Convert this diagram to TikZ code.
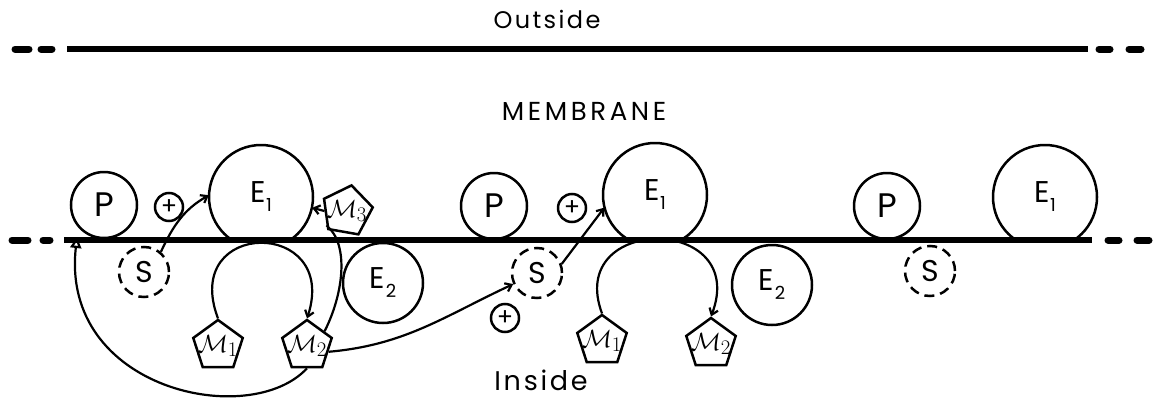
\documentclass[tikz,border=0pt]{standalone}
\usepackage{fontspec}
\setmainfont{Poppins}
\newfontfamily\wideA[LetterSpace=10]{Poppins}
\newfontfamily\wideB[LetterSpace=14]{Poppins}
\usetikzlibrary{shapes.geometric,arrows.meta}

% subscripted labels
\newcommand\Elab[1]{\fontsize{30}{30}\selectfont E\kern0.5pt\raisebox{-0.3em}{\fontsize{18}{18}\selectfont #1}}
\newcommand\Mlab[1]{$\mathcal{M}_{#1}$}

\begin{document}
\begin{tikzpicture}[x=1pt,y=1pt,
  mem/.style={line width=5.5pt},
  memdash/.style={line width=7pt, line cap=round},
  ring/.style={circle, draw, line width=2.5pt, inner sep=0pt},
  pcirc/.style={ring, minimum size=66pt, font=\fontsize{34}{34}\selectfont},
  plusc/.style={ring, minimum size=28pt, font=\fontsize{24}{24}\selectfont},
  ecirc/.style={circle, inner sep=0pt, minimum size=104pt},
  etwo/.style={ring, minimum size=80pt},
  scirc/.style={ring, dash pattern=on 10pt off 6pt, minimum size=50pt, font=\fontsize{30}{30}\selectfont},
  pent/.style={regular polygon, regular polygon sides=5, draw, line width=2.5pt,
               inner sep=0pt, minimum size=52pt},
  mtxt/.style={font=\fontsize{30}{30}\selectfont},
  arr/.style={line width=2.2pt, -{Straight Barb[length=6pt,width=9pt]}},
  link/.style={line width=2.2pt},
  tri/.style={line width=2.2pt, -{Triangle[open,length=11pt,width=11pt]}},
  title/.style={anchor=base}
]
\useasboundingbox (0,0) rectangle (1154,-399);

% membrane surfaces
\draw[memdash] (15,-49) -- (29,-49);
\draw[memdash] (41,-49) -- (52,-49);
\draw[mem] (67,-49) -- (1088,-49);
\draw[memdash] (1099,-49) -- (1110,-49);
\draw[memdash] (1129,-49) -- (1141,-49);

\draw[memdash] (12,-240) -- (28,-240);
\draw[memdash] (43,-240) -- (50,-240);
\draw[mem] (64,-240) -- (1092,-240);
\draw[memdash] (1108,-240) -- (1119,-240);
\draw[memdash] (1137,-240) -- (1149,-240);

% titles
\node[title, font=\wideA\fontsize{24}{24}\selectfont] (out) at (547,-28) {Outside};
\node[title, font=\wideB\fontsize{26}{26}\selectfont] (memb) at (584,-120) {MEMBRANE};
\node[title, font=\wideA\fontsize{27}{27}\selectfont] (ins) at (541,-390) {Inside};

% first unit
\node[pcirc] (P1) at (104,-205) {P};
\node[plusc] (A1) at (169,-207) {+};
\node[ecirc] (E1a) at (261,-197) {\Elab{1}};
\node[scirc] (S1) at (144,-272) {S};
\node[pent, label={[mtxt]center:\Mlab{1}}] (M1a) at (218,-346) {};
\node[pent, label={[mtxt]center:\Mlab{2}}] (M2a) at (307,-346) {};
\node[pent, shape border rotate=-10, label={[mtxt]center:\Mlab{3}}] (M3) at (347,-211) {};
\node[etwo] (E2a) at (383,-283) {\Elab{2}};

% second unit
\node[pcirc] (P2) at (494,-206) {P};
\node[plusc] (A2) at (572,-208) {+};
\node[ecirc] (E1b) at (655,-195) {\Elab{1}};
\node[scirc] (S2) at (537,-273) {S};
\node[plusc] (A3) at (505,-318) {+};
\node[pent, label={[mtxt]center:\Mlab{1}}] (M1b) at (602,-341) {};
\node[pent, label={[mtxt]center:\Mlab{2}}] (M2b) at (711,-344) {};
\node[etwo] (E2b) at (772,-285) {\Elab{2}};

% third unit
\node[pcirc] (P3) at (887,-206) {P};
\node[ecirc] (E1c) at (1045,-197) {\Elab{1}};
\node[scirc] (S3) at (930,-271) {S};

% E1 rims, cut off by the inner membrane surface
\begin{scope}
  \clip (0,0) rectangle (1154,-240);
  \foreach \e in {E1a,E1b,E1c}
    \draw[line width=2.5pt] (\e.center) circle (52);
\end{scope}

% reactions
\draw[arr] (S1.50) to[out=65,in=210] (E1a.178);
\draw[arr] (S2.20) -- (E1b.194);
\draw[arr] (M1a.north) .. controls (180,-218) and (340,-218) .. (M2a.north);
\draw[arr] (M1b.north) .. controls (565,-214) and (750,-214) .. (M2b.north);
\draw[link] (M2a.40) .. controls (343,-295) and (350,-245) .. (M3.215);
\draw[arr] (M3.west) -- (E1a.-12);
\draw[arr] (M2a.-15) to[out=5,in=205] (S2.205);
\coordinate (tip) at (77,-237);
\draw[tri] (M2a.south) .. controls (250,-430) and (60,-390) .. (tip);
\end{tikzpicture}
\end{document}
